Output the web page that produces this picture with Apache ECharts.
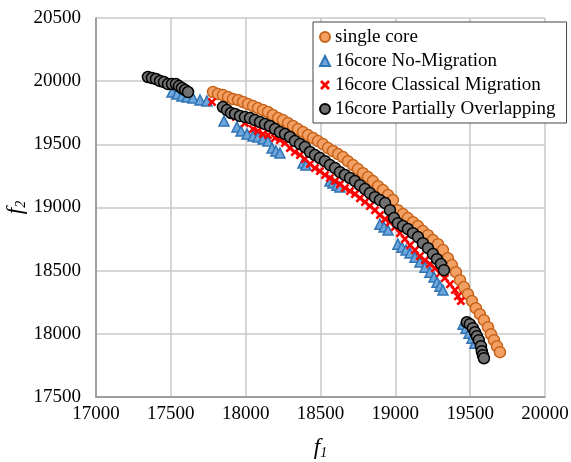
<!DOCTYPE html>
<html>
<head>
<meta charset="utf-8">
<script src="https://cdn.jsdelivr.net/npm/echarts@6/dist/echarts.min.js"></script>
<style>
  html, body { margin: 0; padding: 0; background: #fff; }
  #chart { width: 571px; height: 462px; }
</style>
</head>
<body>
<div id="chart"></div>
<script>
// values
const xTicks = [17000, 17500, 18000, 18500, 19000, 19500, 20000];
const yTicks = [17500, 18000, 18500, 19000, 19500, 20000, 20500];

const singleCore = [
  [17782,19914],[17815,19898],[17848,19890],[17882,19874],[17915,19858],[17949,19851],
  [17982,19835],[18015,19819],[18049,19803],[18082,19787],[18116,19771],[18149,19756],
  [18182,19732],[18216,19708],[18249,19692],[18283,19668],[18316,19645],[18349,19621],
  [18383,19597],[18416,19573],[18450,19550],[18483,19526],[18516,19502],[18550,19470],
  [18583,19447],[18617,19423],[18650,19399],[18683,19367],[18717,19336],[18750,19304],
  [18784,19272],[18817,19241],[18850,19209],[18884,19169],[18917,19138],[18951,19098],
  [18984,19059],[19017,18979],[19051,18948],[19084,18916],[19118,18884],[19151,18853],
  [19184,18813],[19218,18781],[19251,18742],[19285,18710],[19318,18663],[19351,18599],
  [19378,18544],[19405,18488],[19432,18425],[19458,18370],[19485,18314],[19512,18259],
  [19538,18203],[19565,18156],[19592,18108],[19619,18053],[19639,17997],[19659,17950],
  [19679,17902],[19699,17855]
];

const noMigration = [
  [17508,19914],[17541,19898],[17574,19882],[17608,19874],[17648,19866],[17695,19851],
  [17741,19843],[17855,19684],[17942,19637],[17969,19605],[18009,19581],[18049,19565],
  [18082,19558],[18116,19542],[18149,19526],[18176,19470],[18202,19447],[18229,19431],
  [18383,19352],[18403,19336],[18563,19209],[18583,19193],[18610,19177],[18630,19162],
  [18897,18868],[18924,18845],[18951,18821],[19017,18710],[19044,18686],[19071,18663],
  [19098,18639],[19131,18607],[19164,18568],[19198,18528],[19231,18488],[19258,18449],
  [19278,18409],[19298,18377],[19318,18346],
  [19452,18076],[19472,18045],[19492,18005],[19512,17966],[19532,17926]
];

const classicalMigration = [
  [17775,19835],[17935,19716],[17995,19668],[18049,19621],[18082,19605],[18116,19581],
  [18149,19573],[18196,19550],[18229,19534],[18263,19510],[18296,19470],[18329,19439],
  [18363,19415],[18396,19383],[18430,19344],[18463,19312],[18496,19288],[18530,19257],
  [18563,19233],[18597,19209],[18630,19185],[18663,19154],[18697,19130],[18730,19106],
  [18764,19074],[18797,19043],[18830,19011],[18864,18979],[18897,18940],[18931,18908],
  [18964,18884],[18997,18845],[19031,18797],[19064,18750],[19098,18702],[19131,18663],
  [19164,18615],[19198,18583],[19231,18552],[19265,18520],[19298,18480],[19331,18441],
  [19365,18393],[19398,18346],[19418,18298],[19438,18259]
];

const partialOverlap = [
  [17347,20033],[17374,20025],[17401,20017],[17428,20001],[17454,19993],[17481,19977],
  [17508,19977],[17534,19977],[17554,19961],[17574,19946],[17595,19930],[17615,19914],
  [17848,19795],[17875,19771],[17902,19748],[17929,19740],[17962,19724],[17995,19716],
  [18029,19708],[18062,19692],[18096,19676],[18129,19660],[18162,19645],[18196,19621],
  [18229,19597],[18263,19581],[18296,19558],[18329,19526],[18363,19502],[18396,19478],
  [18430,19439],[18463,19415],[18496,19391],[18530,19367],[18563,19336],[18597,19312],
  [18630,19280],[18663,19257],[18697,19233],[18730,19209],[18764,19177],[18797,19146],
  [18830,19114],[18864,19082],[18897,19059],[18931,19035],[18964,18979],[18991,18916],
  [19017,18876],[19051,18853],[19084,18829],[19118,18797],[19151,18766],[19184,18718],
  [19218,18678],[19251,18631],[19278,18591],[19305,18552],[19325,18504],
  [19478,18092],[19498,18076],[19518,18045],[19532,18013],[19545,17981],[19558,17950],
  [19572,17902],[19578,17863],[19585,17831],[19592,17807]
];

const seriesNames = ['single core', '16core No-Migration', '16core Classical Migration', '16core Partially Overlapping'];

const crossPath = 'path://M2,0 L5,3 L8,0 L10,2 L7,5 L10,8 L8,10 L5,7 L2,10 L0,8 L3,5 L0,2 Z';
const serif = 'Liberation Serif';

const myChart = echarts.init(document.getElementById('chart'));

myChart.setOption({
  animation: false,
  backgroundColor: '#fff',
  grid: { left: 96, right: 26, top: 18, bottom: 65, outerBoundsMode: 'none', containLabel: false },
  legend: {
    orient: 'vertical',
    left: 313,
    top: 22,
    padding: [5, 11, 4, 6],
    itemGap: 4,
    itemWidth: 10,
    itemHeight: 10,
    borderColor: '#444',
    borderWidth: 1,
    backgroundColor: '#fff',
    textStyle: { fontFamily: serif, fontSize: 19, color: '#000', lineHeight: 20 },
    data: seriesNames
  },
  xAxis: {
    type: 'value',
    min: xTicks[0],
    max: xTicks[xTicks.length - 1],
    interval: 500,
    name: '{f|f}{s|1}',
    nameLocation: 'middle',
    nameGap: 39,
    nameMoveOverlap: false,
    nameTextStyle: {
      rich: {
        f: { fontFamily: serif, fontStyle: 'italic', fontSize: 23, color: '#000' },
        s: { fontFamily: serif, fontStyle: 'italic', fontSize: 14, color: '#000', padding: [10, 0, 0, 0] }
      }
    },
    axisLine: { show: true, lineStyle: { color: '#8c8c8c', width: 1.5 } },
    axisTick: { show: false },
    axisLabel: { fontFamily: serif, fontSize: 19, color: '#000', margin: 8, formatter: v => String(v) },
    splitLine: { show: true, lineStyle: { color: '#c9c9c9', width: 1.5 } }
  },
  yAxis: {
    type: 'value',
    min: yTicks[0],
    max: yTicks[yTicks.length - 1],
    interval: 500,
    name: '{f|f}{s|2}',
    nameLocation: 'middle',
    nameGap: 68,
    nameRotate: 90,
    nameMoveOverlap: false,
    nameTextStyle: {
      rich: {
        f: { fontFamily: serif, fontStyle: 'italic', fontSize: 23, color: '#000' },
        s: { fontFamily: serif, fontStyle: 'italic', fontSize: 14, color: '#000', padding: [10, 0, 0, 0] }
      }
    },
    axisLine: { show: true, lineStyle: { color: '#8c8c8c', width: 1.5 } },
    axisTick: { show: false },
    axisLabel: { fontFamily: serif, fontSize: 19, color: '#000', margin: 15, formatter: v => String(v) },
    splitLine: { show: true, lineStyle: { color: '#c9c9c9', width: 1.5 } }
  },
  series: [
    {
      name: seriesNames[0],
      type: 'scatter',
      symbol: 'circle',
      symbolSize: 11,
      data: singleCore,
      itemStyle: { color: '#f2a063', borderColor: '#c8631a', borderWidth: 1.5, opacity: 1 }
    },
    {
      name: seriesNames[1],
      type: 'scatter',
      symbol: 'triangle',
      symbolSize: 10,
      data: noMigration,
      itemStyle: { color: '#6ea6dc', borderColor: '#2f74b5', borderWidth: 1.5, opacity: 1 }
    },
    {
      name: seriesNames[2],
      type: 'scatter',
      symbol: crossPath,
      symbolSize: 9,
      data: classicalMigration,
      itemStyle: { color: '#ff0000', opacity: 1 }
    },
    {
      name: seriesNames[3],
      type: 'scatter',
      symbol: 'circle',
      symbolSize: 11,
      data: partialOverlap,
      itemStyle: { color: '#707070', borderColor: '#000', borderWidth: 1.5, opacity: 1 }
    }
  ]
});
</script>
</body>
</html>
